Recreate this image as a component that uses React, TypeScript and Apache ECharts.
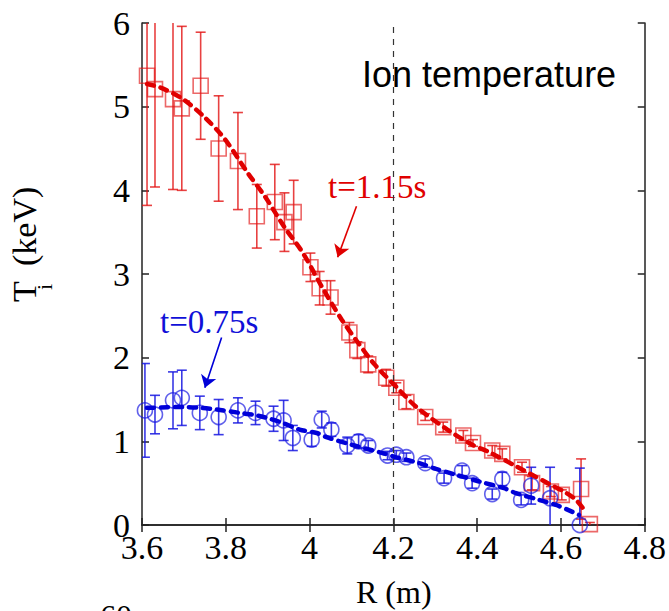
import React, { useEffect, useRef } from "react";
import * as echarts from "echarts";

// t = 1.15 s (red squares)
const R_RED = [3.612, 3.631, 3.674, 3.695, 3.74, 3.783, 3.829, 3.874, 3.917, 3.94, 3.962, 4.002, 4.024, 4.05, 4.095, 4.114, 4.14, 4.183, 4.207, 4.231, 4.276, 4.319, 4.367, 4.39, 4.436, 4.46, 4.507, 4.531, 4.576, 4.602, 4.648, 4.669];
const TI_RED = [5.37, 5.21, 5.09, 4.98, 5.25, 4.5, 4.35, 3.69, 3.86, 3.62, 3.74, 3.08, 2.83, 2.72, 2.3, 2.09, 1.92, 1.76, 1.64, 1.47, 1.29, 1.17, 1.07, 0.98, 0.89, 0.85, 0.69, 0.5, 0.4, 0.36, 0.43, 0.01];
const ERR_RED = [1.55, 1.17, 1.08, 0.98, 0.64, 0.63, 0.58, 0.38, 0.45, 0.35, 0.38, 0.17, 0.2, 0.2, 0.12, 0.1, 0.1, 0.1, 0.06, 0.08, 0.04, 0.06, 0.06, 0.04, 0.06, 0.06, 0.06, 0.08, 0.06, 0.06, 0.36, 0.02];

// t = 0.75 s (blue circles)
const R_BLUE = [3.607, 3.631, 3.674, 3.695, 3.738, 3.783, 3.829, 3.871, 3.914, 3.938, 3.96, 4.005, 4.029, 4.052, 4.09, 4.117, 4.14, 4.186, 4.207, 4.231, 4.276, 4.321, 4.364, 4.388, 4.436, 4.46, 4.505, 4.529, 4.574, 4.645];
const TI_BLUE = [1.37, 1.32, 1.49, 1.52, 1.34, 1.29, 1.37, 1.34, 1.27, 1.25, 1.04, 1.02, 1.26, 1.14, 0.95, 1.0, 0.95, 0.83, 0.84, 0.81, 0.74, 0.56, 0.65, 0.5, 0.37, 0.55, 0.3, 0.47, 0.32, 0.0];
const ERR_BLUE = [0.56, 0.23, 0.34, 0.33, 0.2, 0.21, 0.15, 0.14, 0.15, 0.24, 0.15, 0.08, 0.1, 0.08, 0.1, 0.08, 0.06, 0.05, 0.05, 0.05, 0.05, 0.06, 0.06, 0.06, 0.06, 0.08, 0.06, 0.22, 0.37, 0.68];

// fitted profiles (dashed)
const FIT_RED_R = [3.612, 3.643, 3.695, 3.75, 3.798, 3.852, 3.893, 3.94, 3.983, 4.029, 4.076, 4.114, 4.155, 4.207, 4.255, 4.329, 4.388, 4.429, 4.49, 4.531, 4.576, 4.607, 4.636, 4.66];
const FIT_RED_T = [5.27, 5.23, 5.1, 4.87, 4.61, 4.21, 3.93, 3.56, 3.26, 2.85, 2.46, 2.19, 1.92, 1.65, 1.41, 1.14, 0.96, 0.87, 0.71, 0.6, 0.48, 0.4, 0.3, 0.15];
const FIT_BLUE_R = [3.612, 3.698, 3.74, 3.779, 3.833, 3.874, 3.905, 3.936, 3.976, 4.017, 4.04, 4.1, 4.174, 4.214, 4.262, 4.302, 4.35, 4.405, 4.464, 4.493, 4.548, 4.588, 4.626, 4.643];
const FIT_BLUE_T = [1.4, 1.41, 1.4, 1.38, 1.34, 1.31, 1.27, 1.22, 1.14, 1.1, 1.05, 0.96, 0.86, 0.8, 0.74, 0.67, 0.6, 0.52, 0.44, 0.38, 0.3, 0.24, 0.16, 0.12];

const X_MIN = 3.6, X_MAX = 4.8, X_STEP = 0.2;
const Y_MIN = 0, Y_MAX = 6, Y_STEP = 1;
const R_MARK = 4.2;

const RED = "rgba(226,18,18,0.8)";
const BLUE = "rgba(22,22,225,0.85)";
const SERIF = "'Liberation Serif', 'Times New Roman', serif";
const SANS = "'Liberation Sans', Arial, sans-serif";

function errorBars(xs: number[], ys: number[], es: number[], color: string) {
  return {
    type: "custom",
    clip: true,
    silent: true,
    data: xs.map((x, i) => [x, ys[i], es[i]]),
    renderItem: (params: any, api: any) => {
      const x = api.value(0), y = api.value(1), e = api.value(2);
      const top = api.coord([x, y + e]);
      const bot = api.coord([x, y - e]);
      const hw = 5;
      const st = { stroke: color, lineWidth: 1.6 };
      return {
        type: "group",
        children: [
          { type: "line", shape: { x1: top[0], y1: top[1], x2: bot[0], y2: bot[1] }, style: st },
          { type: "line", shape: { x1: top[0] - hw, y1: top[1], x2: top[0] + hw, y2: top[1] }, style: st },
          { type: "line", shape: { x1: bot[0] - hw, y1: bot[1], x2: bot[0] + hw, y2: bot[1] }, style: st },
        ],
      };
    },
  };
}

export default function App() {
  const ref = useRef<HTMLDivElement>(null);
  useEffect(() => {
    document.body.style.margin = "0";
    const chart = echarts.init(ref.current!, undefined, { renderer: "svg" });
    const axisLine = { show: true, lineStyle: { color: "#222", width: 1.5 } };
    const tick = { show: true, inside: true, length: 7, lineStyle: { color: "#222", width: 1.5 } };
    chart.setOption({
      animation: false,
      backgroundColor: "#fff",
      grid: { left: 142, right: 23, top: 23, bottom: 86, containLabel: false },
      xAxis: [
        {
          type: "value", min: X_MIN, max: X_MAX, interval: X_STEP, position: "bottom",
          axisLine, axisTick: tick, splitLine: { show: false },
          axisLabel: { color: "#000", fontFamily: SERIF, fontSize: 34, margin: 5 },
        },
        {
          type: "value", min: X_MIN, max: X_MAX, interval: X_STEP, position: "top",
          axisLine, axisTick: tick, splitLine: { show: false }, axisLabel: { show: false },
        },
      ],
      yAxis: [
        {
          type: "value", min: Y_MIN, max: Y_MAX, interval: Y_STEP, position: "left",
          axisLine, axisTick: tick, splitLine: { show: false },
          axisLabel: { color: "#000", fontFamily: SERIF, fontSize: 34, margin: 12 },
        },
        {
          type: "value", min: Y_MIN, max: Y_MAX, interval: Y_STEP, position: "right",
          axisLine, axisTick: tick, splitLine: { show: false }, axisLabel: { show: false },
        },
      ],
      series: [
        errorBars(R_RED, TI_RED, ERR_RED, RED),
        errorBars(R_BLUE, TI_BLUE, ERR_BLUE, BLUE),
        {
          type: "line",
          data: FIT_RED_R.map((x, i) => [x, FIT_RED_T[i]]),
          smooth: 0.3, showSymbol: false, symbol: "none",
          lineStyle: { color: "#e00000", width: 4.5, type: [7, 7], cap: "round" },
          markLine: {
            silent: true, symbol: "none", label: { show: false },
            lineStyle: { color: "#333", width: 1.2, type: [6, 6] },
            data: [{ xAxis: R_MARK }],
          },
        },
        {
          type: "line",
          data: FIT_BLUE_R.map((x, i) => [x, FIT_BLUE_T[i]]),
          smooth: 0.3, showSymbol: false, symbol: "none",
          lineStyle: { color: "#0000d8", width: 4.5, type: [7, 7], cap: "round" },
        },
        {
          type: "scatter",
          data: R_RED.map((x, i) => [x, TI_RED[i]]),
          symbol: "rect", symbolSize: 15,
          itemStyle: { color: "rgba(0,0,0,0)", borderColor: RED, borderWidth: 1.6 },
          markLine: {
            silent: true, symbol: ["none", "arrow"], symbolSize: 12, label: { show: false },
            lineStyle: { color: "#e00000", width: 1.6, type: "solid" },
            data: [[{ coord: [4.112, 3.81] }, { coord: [4.067, 3.2] }]],
          },
        },
        {
          type: "scatter",
          data: R_BLUE.map((x, i) => [x, TI_BLUE[i]]),
          symbol: "circle", symbolSize: 15,
          itemStyle: { color: "rgba(0,0,0,0)", borderColor: BLUE, borderWidth: 1.6 },
          markLine: {
            silent: true, symbol: ["none", "arrow"], symbolSize: 12, label: { show: false },
            lineStyle: { color: "#0000d8", width: 1.6, type: "solid" },
            data: [[{ coord: [3.79, 2.24] }, { coord: [3.75, 1.64] }]],
          },
        },
      ],
      graphic: [
        {
          type: "text", left: 362, top: 56,
          style: { text: "Ion temperature", fill: "#000", font: `36px ${SANS}` },
        },
        {
          type: "text", left: 328, top: 170,
          style: { text: "t=1.15s", fill: "#e00000", font: `33px ${SERIF}` },
        },
        {
          type: "text", left: 160, top: 305,
          style: { text: "t=0.75s", fill: "#1010d8", font: `33px ${SERIF}` },
        },
        {
          type: "text", left: 356, top: 576,
          style: { text: "R (m)", fill: "#000", font: `32px ${SERIF}` },
        },
        {
          type: "text", left: 100, top: 600,
          style: { text: "60", fill: "#000", font: `32px ${SERIF}` },
        },
        {
          type: "group", x: 24, y: 302, rotation: Math.PI / 2,
          children: [
            { type: "text", x: 0, y: 0, style: { text: "T", fill: "#000", font: `34px ${SERIF}`, textVerticalAlign: "middle" } },
            { type: "text", x: 12, y: 20, style: { text: "i", fill: "#000", font: `22px ${SERIF}`, textVerticalAlign: "middle" } },
            { type: "text", x: 36, y: 0, style: { text: "(keV)", fill: "#000", font: `34px ${SERIF}`, textVerticalAlign: "middle" } },
          ],
        },
      ],
    });
    return () => chart.dispose();
  }, []);
  return <div ref={ref} style={{ width: 669, height: 611 }} />;
}
